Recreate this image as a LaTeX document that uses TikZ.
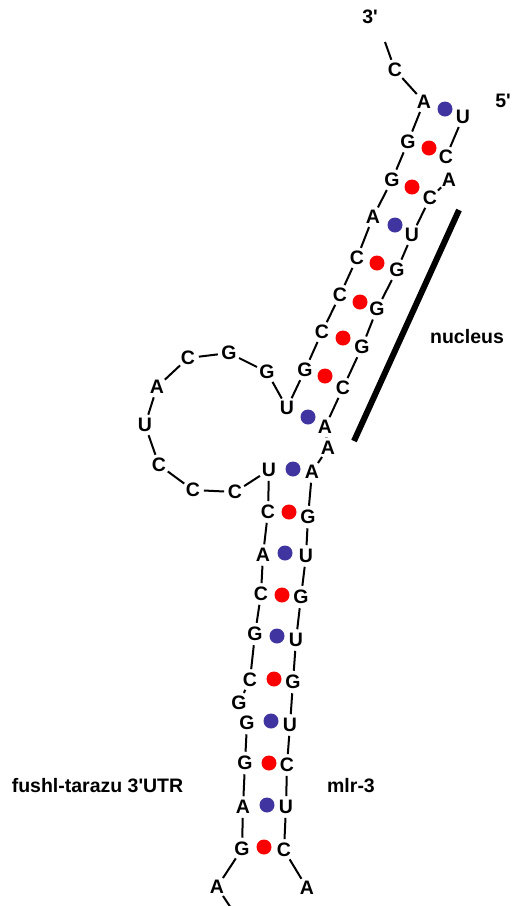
\documentclass[tikz,border=0pt]{standalone}
\usepackage{fontspec}
\setmainfont{Liberation Sans}[Ligatures=TeXOff]
\definecolor{dotblue}{RGB}{64,52,160}
\definecolor{dotred}{RGB}{250,0,0}
\begin{document}
\begin{tikzpicture}[x=1pt,y=-1pt,
  nt/.style={circle,inner sep=0.6pt,font=\fontsize{19.5}{19.5}\bfseries\selectfont},
  lbl/.style={inner sep=0pt,font=\fontsize{19.5}{19.5}\bfseries\selectfont},
  bb/.style={line width=2pt},
  bdot/.style={circle,fill=dotblue,draw=none,minimum size=15pt,inner sep=0pt},
  rdot/.style={circle,fill=dotred,draw=none,minimum size=15pt,inner sep=0pt},
  bar/.style={line width=6pt}]
\useasboundingbox[fill=white] (0,0) rectangle (512,906);
% left strand (3' end at top)
\coordinate (top) at (385,42);
\node[nt] (l1) at (395,70) {C};
\node[nt] (l2) at (424,102) {A};
\node[nt] (l3) at (408,142) {G};
\node[nt] (l4) at (392,180) {G};
\node[nt] (l5) at (373,217) {A};
\node[nt] (l6) at (357,258) {C};
\node[nt] (l7) at (340,295) {C};
\node[nt] (l8) at (322,332) {C};
\node[nt] (l9) at (305,370) {G};
\node[nt] (l10) at (287,408) {U};
\node[nt] (l11) at (267,372) {G};
\node[nt] (l12) at (229,353) {G};
\node[nt] (l13) at (188,358) {C};
\node[nt] (l14) at (157,387) {A};
\node[nt] (l15) at (145,425) {U};
\node[nt] (l16) at (159,465) {C};
\node[nt] (l17) at (193,490) {C};
\node[nt] (l18) at (235,492) {C};
\node[nt] (l19) at (269,470) {U};
\node[nt] (l20) at (268,512) {C};
\node[nt] (l21) at (263,555) {A};
\node[nt] (l22) at (261,594) {C};
\node[nt] (l23) at (255,634) {G};
\node[nt] (l24) at (250,680) {C};
\node[nt] (l25) at (239,703) {G};
\node[nt] (l26) at (247,723) {G};
\node[nt] (l27) at (245,763) {G};
\node[nt] (l28) at (243,807) {A};
\node[nt] (l29) at (242,849) {G};
\node[nt] (l30) at (217,887) {A};
\coordinate (bot) at (231,908);
% right strand (5' end at top)
\node[nt] (r1) at (463,117) {U};
\node[nt] (r2) at (446,157) {C};
\node[nt] (r3) at (449,180) {A};
\node[nt] (r4) at (430,198) {C};
\node[nt] (r5) at (412,235) {U};
\node[nt] (r6) at (397,270) {G};
\node[nt] (r7) at (377,309) {G};
\node[nt] (r8) at (362,347) {G};
\node[nt] (r9) at (343,388) {C};
\node[nt] (r10) at (325,427) {A};
\node[nt] (r11) at (328,448) {A};
\node[nt] (r12) at (312,472) {A};
\node[nt] (r13) at (308,517) {G};
\node[nt] (r14) at (306,556) {U};
\node[nt] (r15) at (301,597) {G};
\node[nt] (r16) at (296,640) {U};
\node[nt] (r17) at (293,682) {G};
\node[nt] (r18) at (290,725) {U};
\node[nt] (r19) at (287,765) {C};
\node[nt] (r20) at (286,807) {U};
\node[nt] (r21) at (284,850) {C};
\node[nt] (r22) at (307,888) {A};
% backbone
\draw[bb] (top) -- (l1) -- (l2) -- (l3) -- (l4) -- (l5) -- (l6) -- (l7) -- (l8) -- (l9) -- (l10) -- (l11) -- (l12) -- (l13) -- (l14) -- (l15) -- (l16) -- (l17) -- (l18) -- (l19) -- (l20) -- (l21) -- (l22) -- (l23) -- (l24) -- (l25);
\draw[bb] (l26) -- (l27) -- (l28) -- (l29) -- (l30) -- (bot);
\draw[bb] (r1) -- (r2);
\draw[bb] (r3) -- (r4) -- (r5) -- (r6) -- (r7) -- (r8) -- (r9) -- (r10) -- (r11) -- (r12) -- (r13) -- (r14) -- (r15) -- (r16) -- (r17) -- (r18) -- (r19) -- (r20) -- (r21) -- (r22);
% base pair dots
\node[bdot] (d1) at (445,109) {};
\node[rdot] (d2) at (429,148) {};
\node[rdot] (d3) at (412,187) {};
\node[bdot] (d4) at (395,225) {};
\node[rdot] (d5) at (377,263) {};
\node[rdot] (d6) at (360,302) {};
\node[rdot] (d7) at (343,338) {};
\node[rdot] (d8) at (325,376) {};
\node[bdot] (d9) at (308,417) {};
\node[bdot] (d10) at (293,469) {};
\node[rdot] (d11) at (289,512) {};
\node[bdot] (d12) at (285,553) {};
\node[rdot] (d13) at (282,595) {};
\node[bdot] (d14) at (277,636) {};
\node[rdot] (d15) at (274,679) {};
\node[bdot] (d16) at (271,721) {};
\node[rdot] (d17) at (269,763) {};
\node[bdot] (d18) at (267,805) {};
\node[rdot] (d19) at (264,847) {};
% nucleus bar
\coordinate (n1) at (459,210);
\coordinate (n2) at (354,441);
\draw[bar] (n1) -- (n2);
% labels
\node[lbl] (t3) at (370,17) {3'};
\node[lbl] (t5) at (503,101) {5'};
\node[lbl] (nuc) at (467,337) {nucleus};
\node[lbl] (ftz) at (97.5,786) {fushl-tarazu 3'UTR};
\node[lbl] (mir) at (351,786) {mlr-3};
\end{tikzpicture}
\end{document}
